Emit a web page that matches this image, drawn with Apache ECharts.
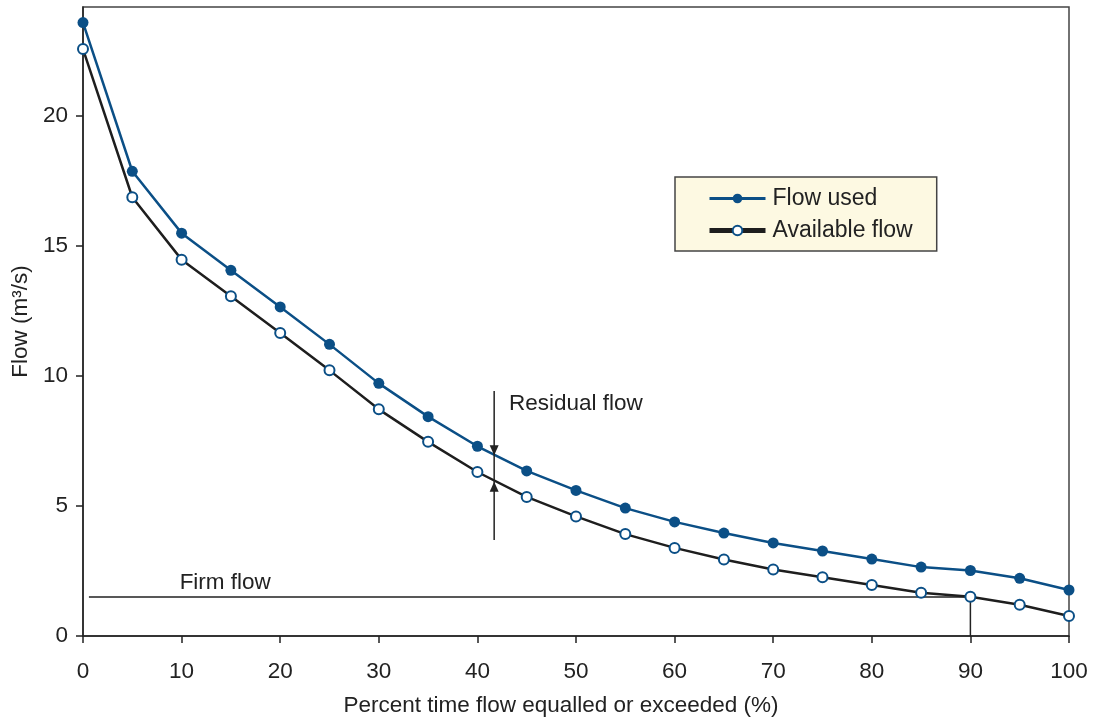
<!DOCTYPE html>
<html>
<head>
<meta charset="utf-8">
<script src="https://cdn.jsdelivr.net/npm/echarts@6/dist/echarts.min.js"></script>
<style>
  html, body { margin: 0; padding: 0; background: #fff; }
  #chart { width: 1096px; height: 725px; }
</style>
</head>
<body>
<div id="chart"></div>
<script>
const pct = [0, 5, 10, 15, 20, 25, 30, 35, 40, 45, 50, 55, 60, 65, 70, 75, 80, 85, 90, 95, 100];
const flowUsed = [23.6, 17.88, 15.5, 14.07, 12.66, 11.22, 9.72, 8.44, 7.3, 6.35, 5.6, 4.92, 4.39, 3.96, 3.58, 3.27, 2.96, 2.65, 2.52, 2.22, 1.77];
const availableFlow = [22.58, 16.88, 14.48, 13.07, 11.66, 10.22, 8.72, 7.47, 6.31, 5.35, 4.6, 3.92, 3.39, 2.94, 2.56, 2.26, 1.96, 1.66, 1.51, 1.2, 0.77];
const xTicks = [0, 10, 20, 30, 40, 50, 60, 70, 80, 90, 100];
const yTicks = [0, 5, 10, 15, 20];

// firm flow level and where it meets the curve
const firmFlow = 1.5;
const firmStart = 0.6;
const firmEnd = 90;
// residual flow marker
const residualX = 41.7;
const residualTop = 9.43;
const residualBottom = 3.69;
const residualArrowDown = 7.15;
const residualArrowUp = 5.74;

const labels = [
  { name: 'Firm flow', value: [9.8, 2.06] },
  { name: 'Residual flow', value: [43.2, 8.95] }
];

const blue = '#0b4f86';
const ink = '#222';
const font = 'Liberation Sans, Arial, Helvetica, sans-serif';
const fs = 22.5;

const axis = {
  axisLine: { show: true, lineStyle: { color: ink, width: 1.5 } },
  axisTick: { show: true, inside: false, length: 7, lineStyle: { color: ink, width: 1.5 } },
  splitLine: { show: false },
  nameTextStyle: { color: ink, fontSize: fs, fontFamily: font }
};

const chart = echarts.init(document.getElementById('chart'));
const option = {
  animation: false,
  textStyle: { fontFamily: font },
  grid: {
    left: 83,
    right: 27,
    top: 7,
    bottom: 89,
    show: true,
    borderColor: '#444',
    borderWidth: 1.5,
    backgroundColor: 'transparent'
  },
  legend: {
    orient: 'vertical',
    left: 675,
    top: 177,
    backgroundColor: '#fdf9e2',
    borderColor: '#444',
    borderWidth: 1.5,
    padding: [10, 24, 9, 32],
    itemGap: 9,
    itemWidth: 56,
    itemHeight: 12,
    textStyle: { color: ink, fontSize: 23, fontFamily: font, padding: [0, 0, 0, 2] },
    data: [
      { name: 'Flow used', lineStyle: { width: 3 } },
      { name: 'Available flow', lineStyle: { width: 5 } }
    ]
  },
  xAxis: {
    type: 'value',
    min: 0,
    max: 100,
    interval: 10,
    ...axis,
    name: 'Percent time flow equalled or exceeded (%)',
    nameLocation: 'middle',
    nameGap: 58,
    nameTextStyle: { ...axis.nameTextStyle, padding: [0, 30, 0, 0] },
    axisLabel: { color: ink, fontSize: fs, margin: 24, fontFamily: font, customValues: xTicks }
  },
  yAxis: {
    type: 'value',
    min: 0,
    max: 24.2,
    ...axis,
    axisTick: { ...axis.axisTick, customValues: yTicks },
    name: 'Flow (m³/s)',
    nameLocation: 'middle',
    nameGap: 50,
    axisLabel: { color: ink, fontSize: fs, margin: 15, fontFamily: font, customValues: yTicks }
  },
  series: [
    {
      name: 'Firm flow line',
      type: 'line',
      silent: true,
      symbol: 'none',
      lineStyle: { color: ink, width: 1.5 },
      data: [[firmStart, firmFlow], [firmEnd, firmFlow], [firmEnd, 0]],
      z: 1
    },
    {
      name: 'Residual line',
      type: 'line',
      silent: true,
      symbol: 'none',
      lineStyle: { color: ink, width: 1.5 },
      data: [[residualX, residualTop], [residualX, residualBottom]],
      markPoint: {
        silent: true,
        label: { show: false },
        itemStyle: { color: ink },
        data: [
          { coord: [residualX, residualArrowDown], symbol: 'triangle', symbolRotate: 180, symbolSize: [9, 10] },
          { coord: [residualX, residualArrowUp], symbol: 'triangle', symbolSize: [9, 10] }
        ]
      },
      z: 5
    },
    {
      name: 'Available flow',
      type: 'line',
      data: pct.map((p, i) => [p, availableFlow[i]]),
      symbol: 'emptyCircle',
      symbolSize: 10,
      lineStyle: { color: '#1e1e1e', width: 2.5 },
      itemStyle: { color: blue, borderColor: blue, borderWidth: 2.5 },
      z: 3
    },
    {
      name: 'Flow used',
      type: 'line',
      data: pct.map((p, i) => [p, flowUsed[i]]),
      symbol: 'circle',
      symbolSize: 11,
      lineStyle: { color: blue, width: 2.5 },
      itemStyle: { color: blue },
      z: 4
    },
    {
      name: 'Annotations',
      type: 'scatter',
      silent: true,
      symbolSize: 0,
      itemStyle: { opacity: 1 },
      data: labels,
      label: {
        show: true,
        position: 'right',
        distance: 0,
        formatter: '{b}',
        color: ink,
        opacity: 1,
        fontSize: fs,
        fontFamily: font
      }
    }
  ]
};
chart.setOption(option);
</script>
</body>
</html>
